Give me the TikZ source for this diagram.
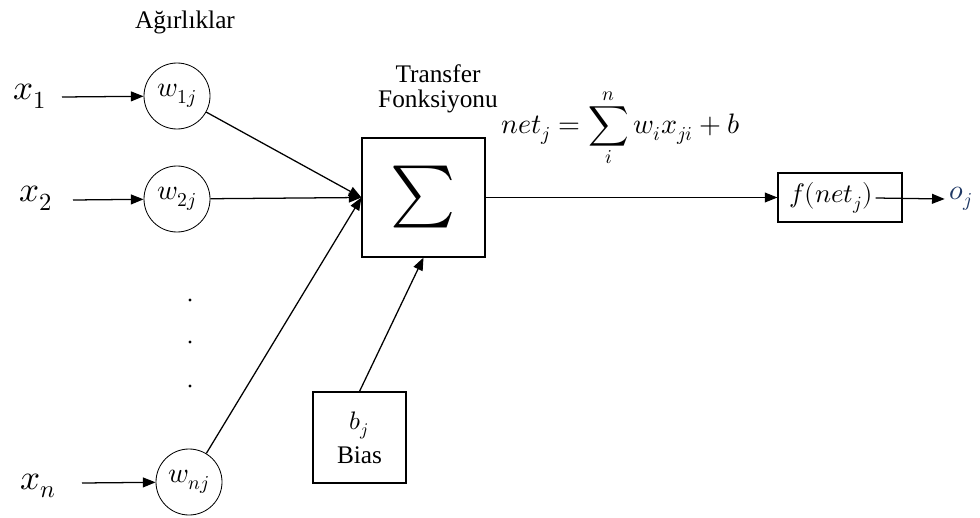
\documentclass[tikz,border=0pt]{standalone}
\usepackage{fontspec}
\usepackage{unicode-math}
\setmainfont{Liberation Serif}
\setmathfont{Latin Modern Math}
\usetikzlibrary{arrows.meta}

\definecolor{outblue}{RGB}{31,56,100}

\tikzset{
  conn/.style={line width=0.9pt, -{Triangle[length=9pt,width=7pt]}},
  weight/.style={draw, circle, line width=0.6pt, minimum size=1.65cm,
    inner sep=0pt, font=\fontsize{20}{22}\selectfont},
  blockbox/.style={draw, line width=0.8pt, inner sep=0pt},
  inp/.style={font=\fontsize{25}{27}\selectfont},
  lbl/.style={font=\fontsize{18}{21}\selectfont, align=center}
}

\begin{document}
\begin{tikzpicture}[x=0.025cm,y=-0.025cm]
  \useasboundingbox (0,0) rectangle (980,518);

  %% inputs
  \node[inp] (x1) at (30,96) {$x_1$};
  \node[inp] (x2) at (36,198) {$x_2$};
  \node[inp] (xn) at (38,486) {$x_n$};
  \coordinate (s1) at (62,97);
  \coordinate (s2) at (73,200);
  \coordinate (sn) at (82,483);

  %% weights
  \node[lbl] (agr) at (185,22) {Ağırlıklar};
  \node[weight] (w1) at (177,96) {$w_{1j}$};
  \node[weight] (w2) at (177,199) {$w_{2j}$};
  \node[weight] (wn) at (189,482) {$w_{nj}$};
  \foreach \y in {300,342,386} \fill (190,\y) circle (1.2pt);

  %% transfer box
  \node[lbl] (tf) at (438,89) {Transfer\\[-3pt]Fonksiyonu};
  \node[blockbox, minimum width=3.075cm, minimum height=2.975cm] (sum) at (423.5,197.5)
    {\fontsize{44}{48}\selectfont$\sum$};
  \node[blockbox, minimum width=2.325cm, minimum height=2.275cm, lbl] (bias) at (359.5,437.5)
    {$b_j$\\[3pt]Bias};
  \node[font=\fontsize{20}{22}\selectfont] (net) at (621,128)
    {$\displaystyle net_j = \sum_i^n w_i x_{ji} + b$};

  %% activation
  \node[blockbox, minimum width=3.1cm, minimum height=1.225cm] (fbox) at (840,197.5) {};
  \node[font=\fontsize{19}{21}\selectfont, inner sep=2pt] (fl) at (831,198) {$f(net_j)$};
  \node[font=\fontsize{20}{22}\selectfont, text=outblue] (o) at (961,199) {$o_j$};

  \draw[conn] (s1) -- (w1);
  \draw[conn] (s2) -- (w2);
  \draw[conn] (sn) -- (wn);
  \foreach \w in {w1,w2,wn} \draw[conn] (\w) -- (sum.west);
  \draw[conn] (bias.north) -- (sum.south);
  \draw[conn] (sum.east) -- (fbox.west);
  \draw[conn] (fl.east) -- (o.west);
\end{tikzpicture}
\end{document}
